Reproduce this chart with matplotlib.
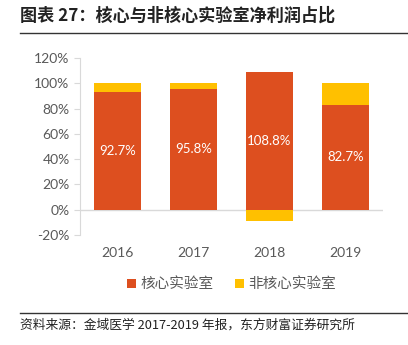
import matplotlib.pyplot as plt
import numpy as np
from matplotlib.lines import Line2D

plt.rcParams['font.family'] = ['Noto Sans CJK SC', 'DejaVu Sans']

years = ['2016', '2017', '2018', '2019']
core = [92.7, 95.8, 108.8, 82.7]
non_core = [7.3, 4.2, -8.8, 17.3]
labels = ['92.7%', '95.8%', '108.8%', '82.7%']

RED = '#dd4f1f'
YEL = '#ffc000'
GRAY = '#595959'

fig = plt.figure(figsize=(4.08, 3.45), dpi=100)
ax = fig.add_axes([0.196, 0.319, 0.743, 0.513])

x = np.arange(len(years))
w = 0.62
ax.bar(x, core, w, color=RED, label='核心实验室', zorder=2)
# 负值从0向下堆叠, 正值堆在核心之上
bottoms = [c if n >= 0 else 0 for c, n in zip(core, non_core)]
ax.bar(x, non_core, w, bottom=bottoms, color=YEL, label='非核心实验室', zorder=2)

for xi, c, lab in zip(x, core, labels):
    ax.text(xi, c / 2, lab, ha='center', va='center', color='white', fontsize=9.5,
            family=['Lato', 'DejaVu Sans'])

ax.set_xlim(-0.5, 3.5)
ax.set_ylim(-20, 120)
ax.set_yticks(range(-20, 121, 20))
ax.set_yticklabels([f'{v}%' for v in range(-20, 121, 20)], family=['Lato', 'DejaVu Sans'])
ax.set_xticks(x)
ax.set_xticklabels(years, family=['Lato', 'DejaVu Sans'])
ax.axhline(0, color='#d9d9d9', lw=1, zorder=1)

for s in ['top', 'right', 'bottom']:
    ax.spines[s].set_visible(False)
ax.spines['left'].set_color('#d9d9d9')
ax.tick_params(axis='y', colors='#d9d9d9', labelcolor=GRAY, labelsize=10, length=4)
ax.tick_params(axis='x', length=0, labelcolor=GRAY, labelsize=10, pad=9)

ax.legend(loc='upper center', bbox_to_anchor=(0.5, -0.165), ncol=2, frameon=False,
          fontsize=10.5, handlelength=0.6, handleheight=0.6, handletextpad=0.3,
          columnspacing=1.5, labelcolor=GRAY)

fig.text(0.05, 0.955, '图表 27：核心与非核心实验室净利润占比', fontsize=12.3,
         fontweight='bold', va='center', color='#222222')
fig.add_artist(Line2D([0.05, 1.0], [0.905, 0.905], color='#333333', lw=1))
fig.add_artist(Line2D([0.05, 1.0], [0.093, 0.093], color='#333333', lw=1))
fig.text(0.05, 0.058, '资料来源：金域医学 2017-2019 年报，东方财富证券研究所', fontsize=9.2,
         va='center', color='#222222')

fig.savefig('out.png', dpi=100)
